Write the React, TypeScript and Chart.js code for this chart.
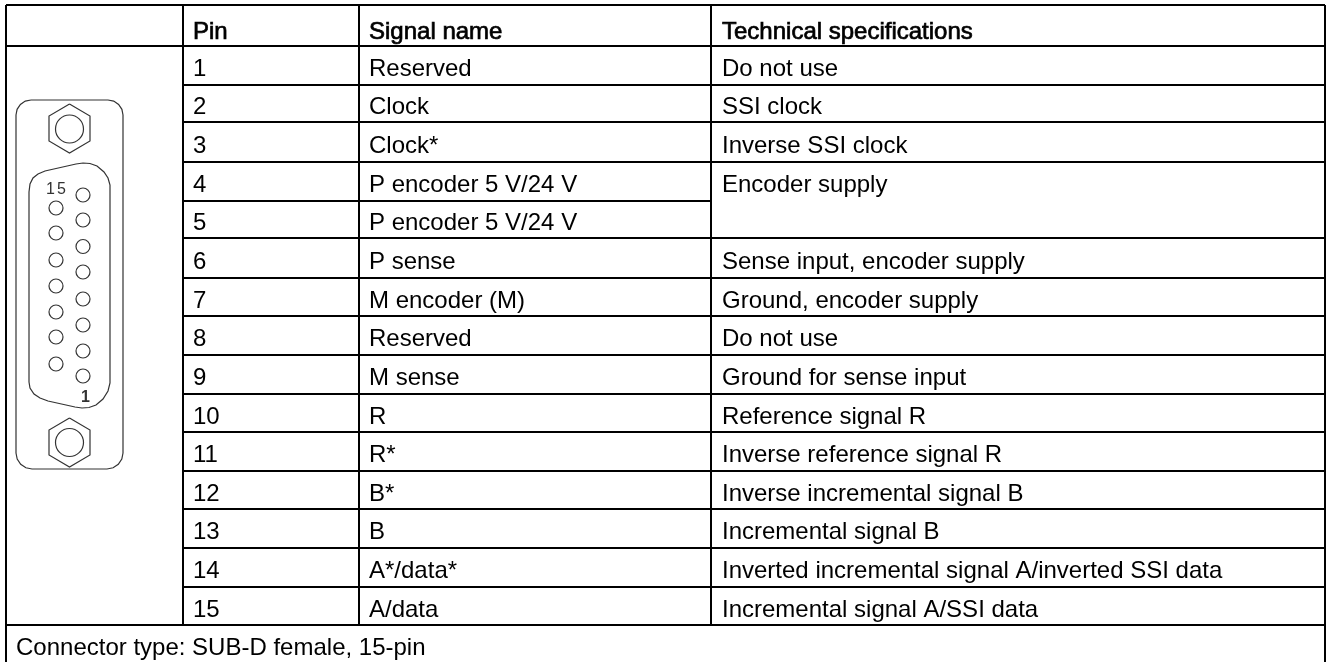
import React, { useEffect, useRef } from "react";
import { Chart, registerables } from "chart.js";

Chart.register(...registerables);

const headers = ["Pin", "Signal name", "Technical specifications"];
const pins = ["1","2","3","4","5","6","7","8","9","10","11","12","13","14","15"];
const signals = ["Reserved","Clock","Clock*","P encoder 5 V/24 V","P encoder 5 V/24 V","P sense","M encoder (M)","Reserved","M sense","R","R*","B*","B","A*/data*","A/data"];
const specs = ["Do not use","SSI clock","Inverse SSI clock","Encoder supply","","Sense input, encoder supply","Ground, encoder supply","Do not use","Ground for sense input","Reference signal R","Inverse reference signal R","Inverse incremental signal B","Incremental signal B","Inverted incremental signal A/inverted SSI data","Incremental signal A/SSI data"];
const footer = "Connector type: SUB-D female, 15-pin";

const columnEdges = [6, 183, 359, 711, 1325];
const rowEdges = [5, 46, 85, 122, 162, 201, 238, 278, 316, 355, 394, 432, 471, 509, 548, 587, 625];
const pageBottom = 662;
const mergedRule = 201;

const shellOutline = [[31,100],[108,100],[113.7,101.1],[118.6,104.4],[121.9,109.3],[123,115],[123,453],[121.8,459.1],[118.3,464.3],[113.1,467.8],[107,469],[32,469],[25.9,467.8],[20.7,464.3],[17.2,459.1],[16,453],[16,115],[17.1,109.3],[20.4,104.4],[25.3,101.1],[31,100]];
const socketOutline = [[29,192],[30,184],[33,178],[38,174],[45,171],[76,164],[83,163],[90,163.5],[97,166],[104,172],[108,178],[110,185],[110,383],[108,391],[103,399],[96,405],[89,407.5],[82,408],[75,407],[48,401],[40,398],[34,394],[30,388],[29,382],[29,192]];
const hexTop = [[69.5,104],[90,116],[90,141],[69.5,153],[49,141],[49,116],[69.5,104]];
const hexBottom = [[69.5,418],[90,430],[90,455],[69.5,467],[49,455],[49,430],[69.5,418]];
const boltCentres = [[69.5,129],[69.5,442.5]];
const pinsRight = [[83,195],[83,220],[83,246.5],[83,272],[83,299],[83,325],[83,351],[83,376]];
const pinsLeft = [[56,208],[56,233],[56,260],[56,286],[56,312],[56,337],[56,364]];

const FONT = '"Liberation Sans", Arial, sans-serif';
const TEXT_SIZE = 24;
const TEXT_OFFSET = 10.5;
const HEADER_OFFSET = 13;
const CELL_PAD = [10, 10, 11];

const xy = (list: number[][]) => list.map(([x, y]) => ({ x, y }));

function ruleSegments() {
  const pts: any[] = [];
  const seg = (x1: number, y1: number, x2: number, y2: number) => {
    pts.push({ x: x1, y: y1 }, { x: x2, y: y2 }, { x: NaN, y: NaN });
  };
  const [left, c1, c2, c3, right] = columnEdges;
  const top = rowEdges[0];
  const last = rowEdges[rowEdges.length - 1];
  seg(left, top, right, top);
  seg(left, rowEdges[1], right, rowEdges[1]);
  rowEdges.slice(2, -1).forEach((y) => seg(c1, y, y === mergedRule ? c3 : right, y));
  seg(left, last, right, last);
  seg(left, top, left, pageBottom);
  seg(right, top, right, pageBottom);
  [c1, c2, c3].forEach((x) => seg(x, top, x, last));
  return pts;
}

const textPlugin = {
  id: "tableText",
  afterDatasetsDraw(chart: any) {
    const { ctx, scales } = chart;
    const px = (v: number) => scales.x.getPixelForValue(v);
    const py = (v: number) => scales.y.getPixelForValue(v);
    const centre = (i: number) => (rowEdges[i] + rowEdges[i + 1]) / 2;
    ctx.save();
    ctx.fillStyle = "#000";
    ctx.strokeStyle = "#000";
    ctx.textBaseline = "alphabetic";
    ctx.textAlign = "left";
    ctx.font = `${TEXT_SIZE}px ${FONT}`;
    const colX = [1, 2, 3].map((i, k) => columnEdges[i] + CELL_PAD[k]);
    ctx.lineWidth = 0.7;
    headers.forEach((h, k) => {
      const y = py(centre(0) + HEADER_OFFSET);
      ctx.fillText(h, px(colX[k]), y);
      ctx.strokeText(h, px(colX[k]), y);
    });
    pins.forEach((p, i) => {
      const y = py(centre(i + 1) + TEXT_OFFSET);
      ctx.fillText(p, px(colX[0]), y);
      ctx.fillText(signals[i], px(colX[1]), y);
      if (specs[i]) ctx.fillText(specs[i], px(colX[2]), y);
    });
    ctx.fillText(footer, px(16), py(655));
    ctx.fillStyle = "#333";
    ctx.font = `16px ${FONT}`;
    ctx.letterSpacing = "2px";
    ctx.fillText("15", px(46), py(194));
    ctx.letterSpacing = "0px";
    ctx.font = `bold 16px ${FONT}`;
    ctx.fillText("1", px(81), py(402));
    ctx.restore();
  },
};

export default function App() {
  const ref = useRef<HTMLCanvasElement | null>(null);
  useEffect(() => {
    if (!ref.current) return;
    const outline = (list: number[][]) => ({
      data: xy(list), showLine: true, pointRadius: 0, borderColor: "#333", borderWidth: 1.2, tension: 0,
    });
    const chart = new Chart(ref.current, {
      type: "scatter",
      data: {
        datasets: [
          { data: ruleSegments(), showLine: true, spanGaps: false, pointRadius: 0, borderColor: "#000", borderWidth: 2, tension: 0 },
          outline(shellOutline),
          outline(socketOutline),
          outline(hexTop),
          outline(hexBottom),
          { data: xy(boltCentres), showLine: false, pointStyle: "circle", pointRadius: 14, backgroundColor: "transparent", borderColor: "#333", borderWidth: 1.2 },
          { data: xy(pinsRight), showLine: false, pointStyle: "circle", pointRadius: 7, backgroundColor: "transparent", borderColor: "#333", borderWidth: 1.2 },
          { data: xy(pinsLeft), showLine: false, pointStyle: "circle", pointRadius: 7, backgroundColor: "transparent", borderColor: "#333", borderWidth: 1.2 },
        ] as any,
      },
      options: {
        animation: false,
        responsive: false,
        events: [],
        layout: { padding: 0, autoPadding: false },
        plugins: { legend: { display: false }, tooltip: { enabled: false } },
        scales: {
          x: { type: "linear", display: false, min: 0, max: 1330 },
          y: { type: "linear", display: false, min: 0, max: 662, reverse: true },
        },
      },
      plugins: [textPlugin],
    } as any);
    return () => chart.destroy();
  }, []);
  return (
    <div style={{ position: "fixed", left: 0, top: 0, width: 1330, height: 662, background: "#fff" }}>
      <canvas ref={ref} width={1330} height={662} style={{ display: "block" }} />
    </div>
  );
}
